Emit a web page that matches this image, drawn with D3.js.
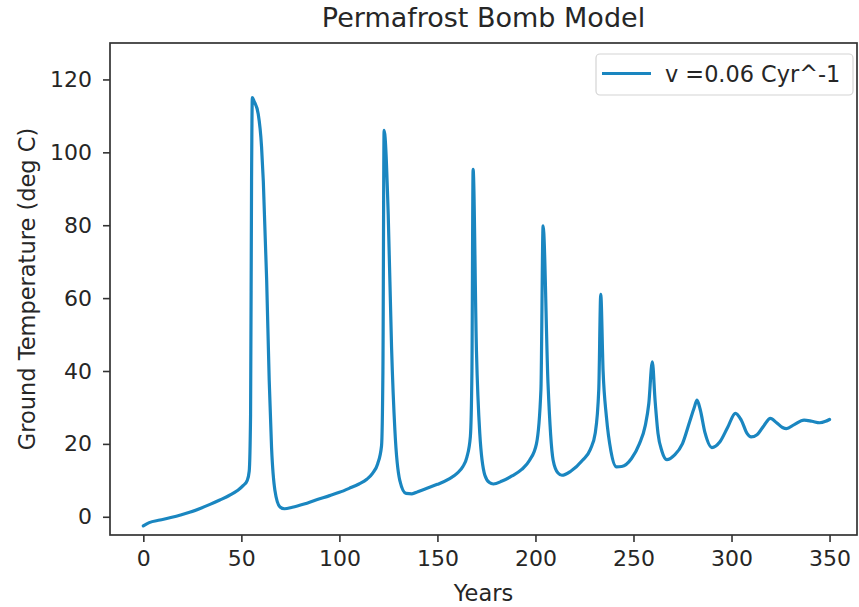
<!DOCTYPE html>
<html>
<head>
<meta charset="utf-8">
<script src="https://cdn.jsdelivr.net/npm/d3@7/dist/d3.min.js"></script>
<style>
  html, body { margin: 0; padding: 0; background: #fff; }
  svg { display: block; font-family: "DejaVu Sans", sans-serif; }
</style>
</head>
<body>
<svg id="chart" width="859" height="607"></svg>
<script>
// ---- data ----
const years = [0, 3, 8.5, 14, 19, 24, 29, 34, 39, 44, 48, 51, 53, 54, 54.7, 55.2, 55.6, 56.5, 58.6, 60.3,
  61.2, 62.9, 64.2, 65.4, 67.1, 69.7, 72, 76, 82, 88, 95, 100, 105, 110, 114, 117, 119.5, 121.5, 122.2, 122.8,
  124.9, 126.6, 128.3, 130.8, 134, 137, 140, 145, 150, 156, 160, 163, 165, 166.8, 167.6, 168.2, 169.9, 171.6, 174.2, 176.5,
  178.5, 183, 188, 193, 197, 200.5, 202.8, 203.9, 206.4, 209, 211.5, 213.5, 218, 224, 228, 230.5, 232.3, 233.3, 234.5, 236.2,
  238.5, 241.3, 244, 249, 253, 256, 257.8, 259.6, 261, 262.5, 264.5, 267, 271, 275, 278.6, 281, 282.4, 284, 286.5, 290,
  294, 298, 302, 305, 308, 310, 313, 316.5, 319.8, 323, 326, 328, 332, 337, 341, 345, 348, 350];
const temperature = [-2.5, -1.6, -0.9, -0.2, 0.5, 1.3, 2.3, 3.4, 4.6, 5.9, 7.2, 8.6, 10, 12.5, 28, 92, 115, 114, 110.5, 101.5,
  92, 65, 37.5, 19, 7.3, 2.7, 2.2, 2.6, 3.5, 4.6, 5.8, 6.7, 7.8, 9, 10.3, 12, 14.5, 19.5, 40, 106,
  83, 46.6, 23.8, 10, 6.4, 6.3, 6.9, 7.9, 8.9, 10.4, 11.9, 13.8, 16.3, 22, 40, 95.3, 45.7, 22.9, 11.4, 9.4,
  9, 9.8, 11.2, 13, 15.5, 20, 35, 79.8, 36.6, 15.6, 12, 11.4, 12.5, 15.5, 18.5, 23, 35, 61, 40, 27.4,
  18, 13.7, 13.8, 16, 20, 25, 31, 42.5, 32, 22.9, 18, 15.7, 17, 20.1, 26, 30, 32, 29.5, 23, 19,
  20.5, 24.5, 28.4, 26.5, 22.8, 21.9, 22.5, 25, 27, 25.8, 24.5, 24.2, 25.3, 26.5, 26.2, 25.8, 26.2, 26.7];
const xTicks = [0, 50, 100, 150, 200, 250, 300, 350];
const yTicks = [0, 20, 40, 60, 80, 100, 120];
const xDomain = [-17, 364];
const yDomain = [-5, 130];
const titleText = "Permafrost Bomb Model";
const xLabel = "Years";
const yLabel = "Ground Temperature (deg C)";
const seriesLabel = "v =0.06 Cyr^-1";

// ---- layout ----
const W = 859, H = 607;
const plot = { left: 110, right: 857, top: 43, bottom: 535 };
const lineColor = "#1a86c0";
const inkColor = "#262626";

const svg = d3.select("#chart");
const x = d3.scaleLinear().domain(xDomain).range([plot.left, plot.right]);
const y = d3.scaleLinear().domain(yDomain).range([plot.bottom, plot.top]);

// axes
const xAxis = svg.append("g")
  .attr("transform", `translate(0,${plot.bottom})`)
  .call(d3.axisBottom(x).tickValues(xTicks).tickSize(7).tickPadding(8).tickFormat(d3.format("d")));
const yAxis = svg.append("g")
  .attr("transform", `translate(${plot.left},0)`)
  .call(d3.axisLeft(y).tickValues(yTicks).tickSize(7).tickPadding(11).tickFormat(d3.format("d")));
[xAxis, yAxis].forEach(g => {
  g.select(".domain").remove();
  g.selectAll(".tick line").attr("stroke", "#333").attr("stroke-width", 1.6);
  g.selectAll(".tick text").attr("fill", inkColor).style("font-size", "22px")
    .style("font-family", "'DejaVu Sans', sans-serif");
});

// frame (spines)
svg.append("rect")
  .attr("x", plot.left).attr("y", plot.top)
  .attr("width", plot.right - plot.left).attr("height", plot.bottom - plot.top)
  .attr("fill", "none").attr("stroke", "#333").attr("stroke-width", 1.7);

// line
const data = years.map((t, i) => [t, temperature[i]]);
svg.append("path")
  .datum(data)
  .attr("fill", "none")
  .attr("stroke", lineColor)
  .attr("stroke-width", 3.2)
  .attr("stroke-linejoin", "round")
  .attr("stroke-linecap", "round")
  .attr("d", d3.line().x(d => x(d[0])).y(d => y(d[1])).curve(d3.curveMonotoneX));

// title
svg.append("text")
  .attr("x", (plot.left + plot.right) / 2).attr("y", 27)
  .attr("text-anchor", "middle").attr("fill", inkColor)
  .style("font-size", "27px").text(titleText);

// axis labels
svg.append("text")
  .attr("x", (plot.left + plot.right) / 2).attr("y", 601)
  .attr("text-anchor", "middle").attr("fill", inkColor)
  .style("font-size", "22.5px").text(xLabel);
svg.append("text")
  .attr("transform", `translate(35,${(plot.top + plot.bottom) / 2}) rotate(-90)`)
  .attr("text-anchor", "middle").attr("fill", inkColor)
  .style("font-size", "22.5px").text(yLabel);

// legend
const lg = svg.append("g");
lg.append("rect")
  .attr("x", 596).attr("y", 54).attr("width", 257).attr("height", 41)
  .attr("rx", 4).attr("fill", "#fff").attr("fill-opacity", 0.8)
  .attr("stroke", "#d4d4d4").attr("stroke-width", 1.2);
lg.append("line")
  .attr("x1", 602).attr("x2", 651).attr("y1", 73.5).attr("y2", 73.5)
  .attr("stroke", lineColor).attr("stroke-width", 3.2);
lg.append("text")
  .attr("x", 665).attr("y", 81.5).attr("fill", inkColor)
  .style("font-size", "22.4px").text(seriesLabel);
</script>
</body>
</html>
